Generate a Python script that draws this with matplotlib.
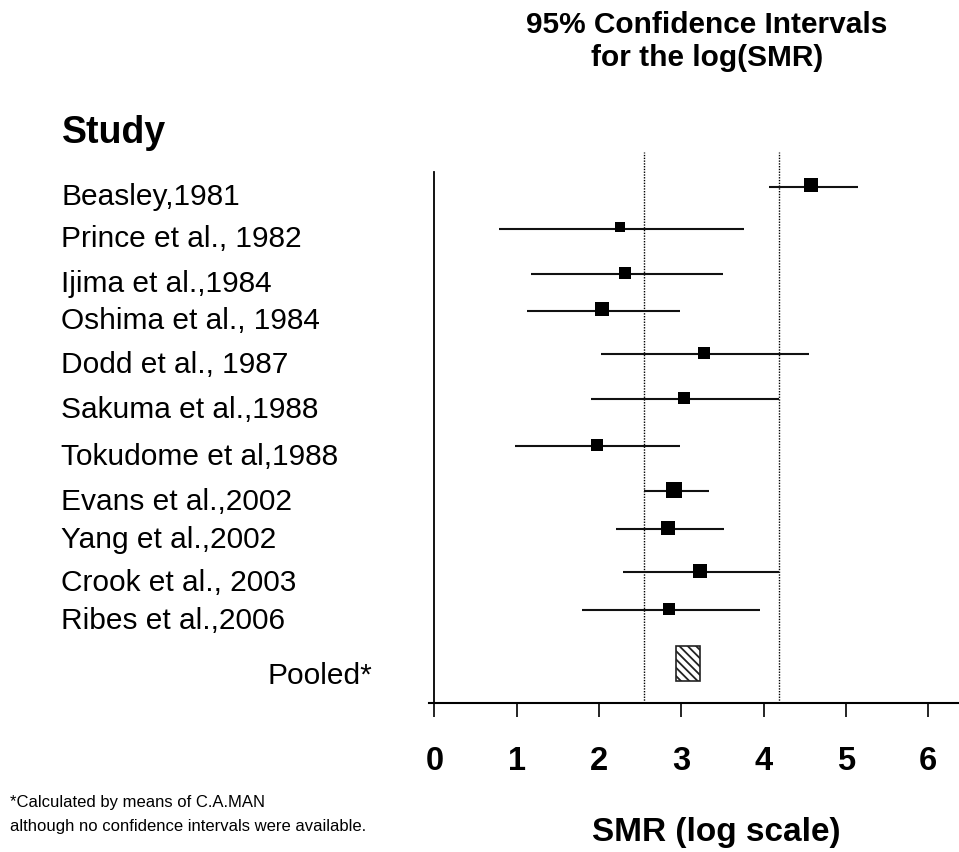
import matplotlib
matplotlib.use("Agg")
import matplotlib.pyplot as plt
from matplotlib.patches import Rectangle
from matplotlib.transforms import blended_transform_factory

plt.rcParams['font.family'] = ['Liberation Sans', 'DejaVu Sans']
plt.rcParams['hatch.linewidth'] = 1.3

# ---------------------------------
# Study estimates (log SMR) and 95% CIs
# ---------------------------------
studies = [
    "Beasley,1981", "Prince et al., 1982", "Ijima et al.,1984",
    "Oshima et al., 1984", "Dodd et al., 1987", "Sakuma et al.,1988",
    "Tokudome et al,1988", "Evans et al.,2002", "Yang et al.,2002",
    "Crook et al., 2003", "Ribes et al.,2006",
]
log_smr = [4.58, 2.25, 2.32, 2.03, 3.27, 3.03, 1.97, 2.91, 2.84, 3.22, 2.85]
ci_low = [4.06, 0.78, 1.17, 1.13, 2.02, 1.90, 0.98, 2.54, 2.21, 2.29, 1.79]
ci_high = [5.14, 3.76, 3.51, 2.98, 4.55, 4.18, 2.98, 3.33, 3.52, 4.18, 3.96]
pooled_label = "Pooled*"
pooled_log_smr = 3.08
ref_lines = [2.54, 4.18]
x_ticks = [0, 1, 2, 3, 4, 5, 6]

# ---------------------------------
# Layout: row heights and box sizes
# ---------------------------------
row_y = [51.77, 47.57, 43.05, 39.37, 35.0, 30.48, 25.83, 21.3, 17.5, 13.2, 9.38]
pooled_y = 3.95
box_px = [14.3, 10, 11.3, 13.3, 12, 12.3, 12.7, 15.3, 14.3, 13.7, 12.3]

fig = plt.figure(figsize=(9.59, 8.52), dpi=100)
ax = fig.add_axes([429 / 959, 1 - 703 / 852, 530 / 959, 531.3 / 852])
ax.set_xlim(-0.0668, 6.373)
ax.set_ylim(0, 53.13)

# reference lines
for xv in ref_lines:
    ax.axvline(xv, ymin=0, ymax=1.037, color="black", lw=1.0,
               linestyle=(0, (1, 1)), clip_on=False, zorder=1)

# CI whiskers and boxes
for i in range(len(studies)):
    ax.plot([ci_low[i], ci_high[i]], [row_y[i] - 0.12] * 2,
            color="#111111", lw=1.5, solid_capstyle="butt", zorder=2)
    ax.plot(log_smr[i], row_y[i], marker="s", color="black",
            markersize=box_px[i] * 0.72, mew=0, zorder=3)

# pooled estimate (no CI available)
ax.add_patch(Rectangle((pooled_log_smr - 0.144, pooled_y - 1.72), 0.288, 3.44,
                       facecolor="white", edgecolor="#222222", lw=1.2,
                       hatch="\\\\\\\\", zorder=3))

# axes
for s in ["top", "right"]:
    ax.spines[s].set_visible(False)
ax.spines["left"].set_position(("data", 0))
ax.spines["left"].set_linewidth(1.3)
ax.spines["bottom"].set_linewidth(1.5)
ax.set_yticks([])
ax.set_xticks(x_ticks)
ax.set_xticklabels([str(t) for t in x_ticks], fontsize=23.5, fontweight="bold")
ax.tick_params(axis="x", direction="out", length=9.9, width=1.2, pad=21)

# study labels
lab_tr = blended_transform_factory(fig.transFigure, ax.transData)
for name, y in zip(studies, row_y):
    ax.text(61 / 959, y - 2.0, name, transform=lab_tr, fontsize=21.5,
            va="baseline", ha="left", clip_on=False)
ax.text(372 / 959, pooled_y - 2.0, pooled_label, transform=lab_tr,
        fontsize=21.5, va="baseline", ha="right", clip_on=False)

fig.text(62 / 959, 1 - 143.3 / 852, "Study", fontsize=27, fontweight="bold",
         va="baseline", ha="left")
fig.text(707 / 959, 1 - 33 / 852, "95% Confidence Intervals", fontsize=21.5,
         fontweight="bold", va="baseline", ha="center")
fig.text(707 / 959, 1 - 66 / 852, "for the log(SMR)", fontsize=21.5,
         fontweight="bold", va="baseline", ha="center")
fig.text(716 / 959, 1 - 832 / 852, "SMR (log scale)", fontsize=24,
         fontweight="bold", va="center", ha="center")
fig.text(10 / 959, 1 - 803 / 852, "*Calculated by means of C.A.MAN",
         fontsize=12, va="center", ha="left")
fig.text(10 / 959, 1 - 826 / 852,
         "although no confidence intervals were available.",
         fontsize=12, va="center", ha="left")

fig.savefig("out.png", dpi=100)
